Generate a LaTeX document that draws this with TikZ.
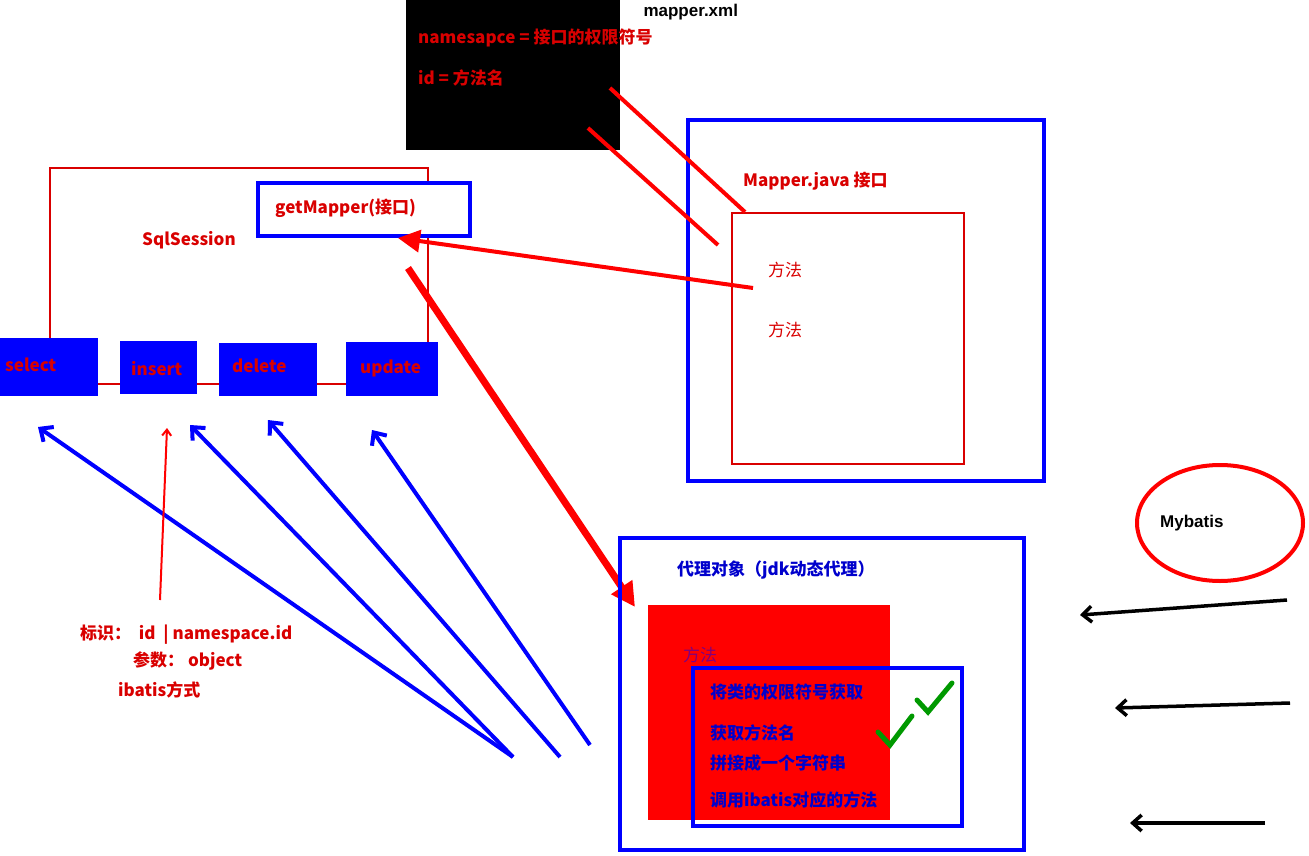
\documentclass[tikz,border=0pt]{standalone}
\usepackage{fontspec}
\setmainfont{Liberation Sans}
\newfontfamily\cjk{Noto Sans CJK SC}
\usetikzlibrary{arrows.meta}
\begin{document}
\begin{tikzpicture}[x=1pt,y=-1pt,
 rt/.style={text=red!85!black,font=\bfseries\cjk\fontsize{17}{19}\selectfont,anchor=west,inner sep=0},
 bt/.style={text=blue!80!black,font=\bfseries\cjk\fontsize{17}{19}\selectfont,anchor=west,inner sep=0},
 bbox/.style={draw=blue,line width=4pt},
 bfill/.style={fill=blue,draw=none},
 barrow/.style={blue,line width=4pt,-{Straight Barb[length=10pt,width=18pt]}},
 karrow/.style={black,line width=3.5pt,-{Straight Barb[length=9pt,width=16pt]}},
 rline/.style={red,line width=4pt}]
\useasboundingbox (0,0) rectangle (1309,856);
\fill[white] (0,0) rectangle (1309,856);
% mapper.xml
\fill[black] (406,0) rectangle (620,150);
\node[rt] (ns) at (418,38) {namesapce = 接口的权限符号};
\node[rt] (idn) at (418,78) {id = 方法名};
\node[anchor=west,font=\bfseries\fontsize{17}{19}\selectfont] (mx) at (640,12) {mapper.xml};
% SqlSession
\draw[red!85!black,line width=2pt] (50,384) -- (50,168) -- (428,168) -- (428,384) -- (50,384);
\node[rt] (ss) at (142,240) {SqlSession};
\draw[bbox,fill=white] (258,183) rectangle (470,236);
\node[rt] (gm) at (275,208) {getMapper(接口)};
\fill[bfill] (0,338) rectangle (98,396); \node[rt] (sel) at (5,365) {select};
\fill[bfill] (120,341) rectangle (197,394); \node[rt] (ins) at (131,369) {insert};
\fill[bfill] (219,343) rectangle (317,396); \node[rt] (del) at (232,366) {delete};
\fill[bfill] (346,342) rectangle (438,396); \node[rt] (upd) at (360,368) {update};
% Mapper.java
\draw[bbox] (688,120) rectangle (1044,481);
\node[rt] (mj) at (743,181) {Mapper.java 接口};
\draw[red!85!black,line width=2pt] (732,213) rectangle (964,464);
\node[rt,font=\cjk\fontsize{17}{19}\selectfont] (m1) at (768,270) {方法};
\node[rt,font=\cjk\fontsize{17}{19}\selectfont] (m2) at (768,330) {方法};
\coordinate (a1) at (610,88); \coordinate (a2) at (745,212);
\coordinate (b1) at (588,128); \coordinate (b2) at (718,245);
\draw[rline] (a1) -- (a2); \draw[rline] (b1) -- (b2);
\coordinate (c1) at (753,288); \coordinate (c2) at (398,238);
\draw[rline,-{Triangle[length=22pt,width=22pt]}] (c1) -- (c2);
\coordinate (d1) at (408,268); \coordinate (d2) at (635,607);
\draw[red,line width=7pt,-{Triangle[length=24pt,width=24pt]}] (d1) -- (d2);
% proxy
\draw[bbox] (620,538) rectangle (1024,850);
\node[bt] (px) at (677,570) {代理对象（jdk动态代理）};
\fill[red] (648,605) rectangle (890,820);
\node[rt,font=\cjk\fontsize{17}{19}\selectfont,text=blue!50!red] (pm) at (683,655) {方法};
\draw[bbox] (693,668) rectangle (962,826);
\node[bt] (s1) at (710,692) {将类的权限符号获取};
\node[bt] (s2) at (710,733) {获取方法名};
\node[bt] (s3) at (710,763) {拼接成一个字符串};
\node[bt] (s4) at (710,800) {调用ibatis对应的方法};
\draw[green!60!black,line width=5pt,line cap=round] (917,700) -- (928,712) -- (952,683);
\draw[green!60!black,line width=5pt,line cap=round] (878,732) -- (890,745) -- (912,716);
% Mybatis
\draw[red,line width=4pt] (1220,523) ellipse (83 and 58);
\node[anchor=west,font=\bfseries\fontsize{17}{19}\selectfont,inner sep=0] (mb) at (1160,523) {Mybatis};
\coordinate (k1) at (1287,600); \coordinate (k2) at (1080,615);
\coordinate (k3) at (1290,703); \coordinate (k4) at (1115,708);
\coordinate (k5) at (1265,823); \coordinate (k6) at (1130,823);
\draw[karrow] (k1) -- (k2); \draw[karrow] (k3) -- (k4); \draw[karrow] (k5) -- (k6);
% blue arrows
\coordinate (p1) at (513,757); \coordinate (p2) at (560,757); \coordinate (p3) at (590,745);
\coordinate (q1) at (38,427); \coordinate (q2) at (190,425); \coordinate (q3) at (268,420); \coordinate (q4) at (372,430);
\draw[barrow] (p1) -- (q1); \draw[barrow] (p1) -- (q2); \draw[barrow] (p2) -- (q3); \draw[barrow] (p3) -- (q4);
% id arrow
\coordinate (r1) at (160,600); \coordinate (r2) at (167,428);
\draw[red,line width=2pt,-{Straight Barb[length=6pt,width=9pt]}] (r1) -- (r2);
\node[rt] (t1) at (80,635) {标识：\ \ id \ | namespace.id};
\node[rt] (t2) at (133,661) {参数：\ object};
\node[rt] (t3) at (118,690) {ibatis方式};
\end{tikzpicture}
\end{document}
